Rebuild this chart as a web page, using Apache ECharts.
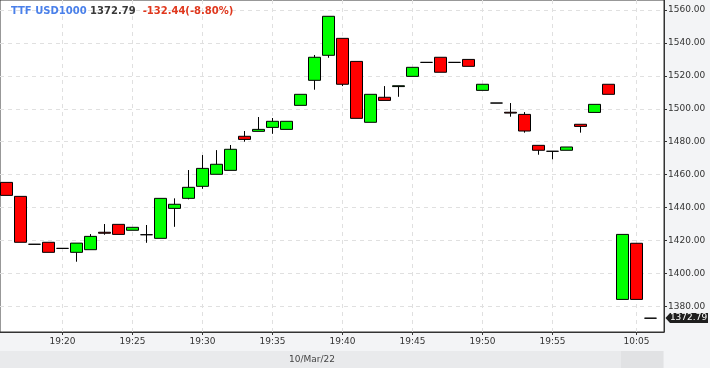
<!DOCTYPE html>
<html><head><meta charset="utf-8">
<script src="https://cdn.jsdelivr.net/npm/echarts@6/dist/echarts.min.js"></script>
<style>html,body{margin:0;padding:0;background:#f3f4f6}#c{width:710px;height:368px}</style>
</head><body><div id="c"></div>
<script>
const times  = ['19:16','19:17','19:18','19:19','19:20','19:21','19:22','19:23','19:24','19:25',
                '19:26','19:27','19:28','19:29','19:30','19:31','19:32','19:33','19:34','19:35',
                '19:36','19:37','19:38','19:39','19:40','19:41','19:42','19:43','19:44','19:45',
                '19:46','19:47','19:48','19:49','19:50','19:51','19:52','19:53','19:54','19:55',
                '19:56','19:57','19:58','19:59','10:04','10:05','10:06'];
const opens  = [1455.3,1446.8,1417.7,1418.9,1415.2,1412.8,1414.4,1425.0,1429.8,1426.2,
                1423.5,1421.3,1439.5,1445.6,1452.9,1460.2,1462.6,1483.3,1486.3,1488.7,
                1487.5,1502.1,1517.3,1532.5,1542.8,1528.8,1491.8,1507.0,1513.5,1519.7,
                1528.2,1531.3,1528.2,1530.0,1511.2,1503.5,1497.9,1496.6,1477.8,1474.2,
                1474.8,1490.6,1497.8,1514.9,1384.2,1418.3,1372.79];
const closes = [1447.4,1418.9,1417.7,1412.8,1415.2,1418.4,1422.5,1424.4,1423.7,1428.0,
                1423.5,1445.6,1442.0,1452.3,1463.8,1466.3,1475.4,1481.4,1487.5,1492.4,
                1492.4,1508.8,1531.3,1556.2,1514.9,1494.2,1508.8,1505.1,1514.0,1525.2,
                1528.2,1522.2,1528.2,1525.8,1514.9,1503.5,1497.4,1486.5,1474.8,1474.2,
                1476.8,1489.3,1502.7,1508.8,1423.7,1384.2,1372.79];
const lows   = [1447.4,1418.9,1417.7,1412.8,1415.2,1407.1,1414.4,1423.5,1423.7,1426.2,
                1418.6,1421.3,1428.3,1445.0,1451.4,1460.2,1462.6,1480.0,1486.3,1484.8,
                1487.5,1502.1,1511.6,1531.0,1513.8,1494.2,1491.8,1505.1,1507.3,1519.7,
                1528.2,1522.2,1528.2,1525.8,1511.2,1503.5,1495.2,1485.5,1472.1,1469.3,
                1474.8,1485.5,1497.8,1508.8,1384.2,1384.2,1372.79];
const highs  = [1455.3,1446.8,1417.7,1418.9,1415.2,1418.4,1423.9,1430.0,1429.8,1428.0,
                1429.4,1445.6,1445.6,1462.8,1471.9,1474.9,1478.0,1486.5,1495.0,1494.4,
                1492.4,1508.8,1532.7,1556.2,1542.8,1528.8,1508.8,1513.8,1514.0,1525.2,
                1528.2,1531.3,1528.2,1530.0,1514.9,1503.5,1503.5,1498.0,1477.8,1474.2,
                1476.8,1490.6,1502.7,1514.9,1423.7,1418.3,1372.79];
const xTickLabels = ['19:20','19:25','19:30','19:35','19:40','19:45','19:50','19:55','10:05'];
const yTicks = [1380,1400,1420,1440,1460,1480,1500,1520,1540,1560];
const symbolName = 'TTF USD1000';
const lastPriceText = '1372.79';
const changeText = '-132.44(-8.80%)';
const dateLabel = '10/Mar/22';

const FONT = 'DejaVu Sans';
const data = times.map((t, i) => [i, opens[i], closes[i], lows[i], highs[i]]);
const xTickIdx = xTickLabels.map(t => times.indexOf(t));

const chart = echarts.init(document.getElementById('c'), null, {renderer: 'canvas'});
const baseGraphic = [
  {id: 'band', type: 'rect', left: 0, top: 351, z: 0, silent: true,
   shape: {width: 664, height: 17}, style: {fill: '#e9eaec'}},
  {id: 'patch', type: 'rect', left: 621, top: 351, z: 0, silent: true,
   shape: {width: 42, height: 17}, style: {fill: '#e1e2e4'}},
  {id: 'date', type: 'text', x: 312, y: 359.5, z: 5, silent: true,
   style: {text: dateLabel, fill: '#444', font: '9px "DejaVu Sans"', align: 'center', verticalAlign: 'middle'}}
];
const gridLineStyle = {color: '#e0e0e0', type: [4, 4], width: 1};
chart.setOption({
  animation: false,
  backgroundColor: '#f3f4f6',
  title: {
    left: 11, top: 6, padding: 0,
    text: '{a|' + symbolName + '} {b|' + lastPriceText + '}  {c|' + changeText + '}',
    textStyle: {
      fontFamily: FONT, fontSize: 10, fontWeight: 'bold',
      rich: {
        a: {color: '#4a80ea', fontFamily: FONT, fontSize: 10, fontWeight: 'bold'},
        b: {color: '#3a3a3a', fontFamily: FONT, fontSize: 10, fontWeight: 'bold'},
        c: {color: '#e0381e', fontFamily: FONT, fontSize: 10, fontWeight: 'bold'}
      }
    }
  },
  grid: {left: 0, right: 46, top: 0, bottom: 36, show: true, backgroundColor: '#fff',
         borderColor: '#333', borderWidth: 1, containLabel: false},
  xAxis: {
    type: 'value', min: 4 - 62.5 / 14, max: 4 + 601.5 / 14,
    axisLine: {show: true, onZero: false, lineStyle: {color: '#333', width: 1}},
    axisTick: {show: true, length: 3, customValues: xTickIdx, lineStyle: {color: '#333'}},
    axisLabel: {customValues: xTickIdx, formatter: v => times[Math.round(v)] || '',
                color: '#333', fontFamily: FONT, fontSize: 9, margin: 5},
    splitLine: {show: false}
  },
  yAxis: {
    type: 'value', position: 'right', min: 1364.4, max: 1566.1, scale: true,
    axisLine: {show: true, onZero: false, lineStyle: {color: '#333', width: 1}},
    axisTick: {show: true, length: 3, customValues: yTicks, lineStyle: {color: '#333'}},
    axisLabel: {customValues: yTicks, formatter: v => Number(v).toFixed(2),
                color: '#333', fontFamily: FONT, fontSize: 9, margin: 4},
    splitLine: {show: true, lineStyle: gridLineStyle}
  },
  series: [{
    type: 'candlestick',
    data: data,
    encode: {x: 0, y: [1, 2, 3, 4]},
    barWidth: 12,
    clip: true,
    z: 3,
    itemStyle: {color: '#00ff00', color0: '#ff0000', borderColor: '#000', borderColor0: '#000',
                borderColorDoji: '#000', borderWidth: 1},
    markLine: {
      silent: true, symbol: ['none', 'none'], animation: false, z: 1,
      label: {show: false},
      lineStyle: gridLineStyle,
      emphasis: {disabled: true, lineStyle: gridLineStyle},
      data: xTickIdx.map(i => ({xAxis: i}))
    }
  }],
  graphic: {elements: baseGraphic}
});

const lastClose = closes[closes.length - 1];
const py = Math.round(chart.convertToPixel({yAxisIndex: 0}, lastClose));
chart.setOption({
  graphic: {elements: baseGraphic.concat([
    {id: 'pxbox', type: 'polygon', z: 10, silent: true,
     shape: {points: [[665.5, py], [670, py - 5], [708, py - 5], [708, py + 5], [670, py + 5]]},
     style: {fill: '#1e1e1e'}},
    {id: 'pxtxt', type: 'text', z: 11, silent: true, x: 688.5, y: py,
     style: {text: lastPriceText, fill: '#fff', font: '9px "DejaVu Sans"', align: 'center', verticalAlign: 'middle'}}
  ])}
});
</script></body></html>
